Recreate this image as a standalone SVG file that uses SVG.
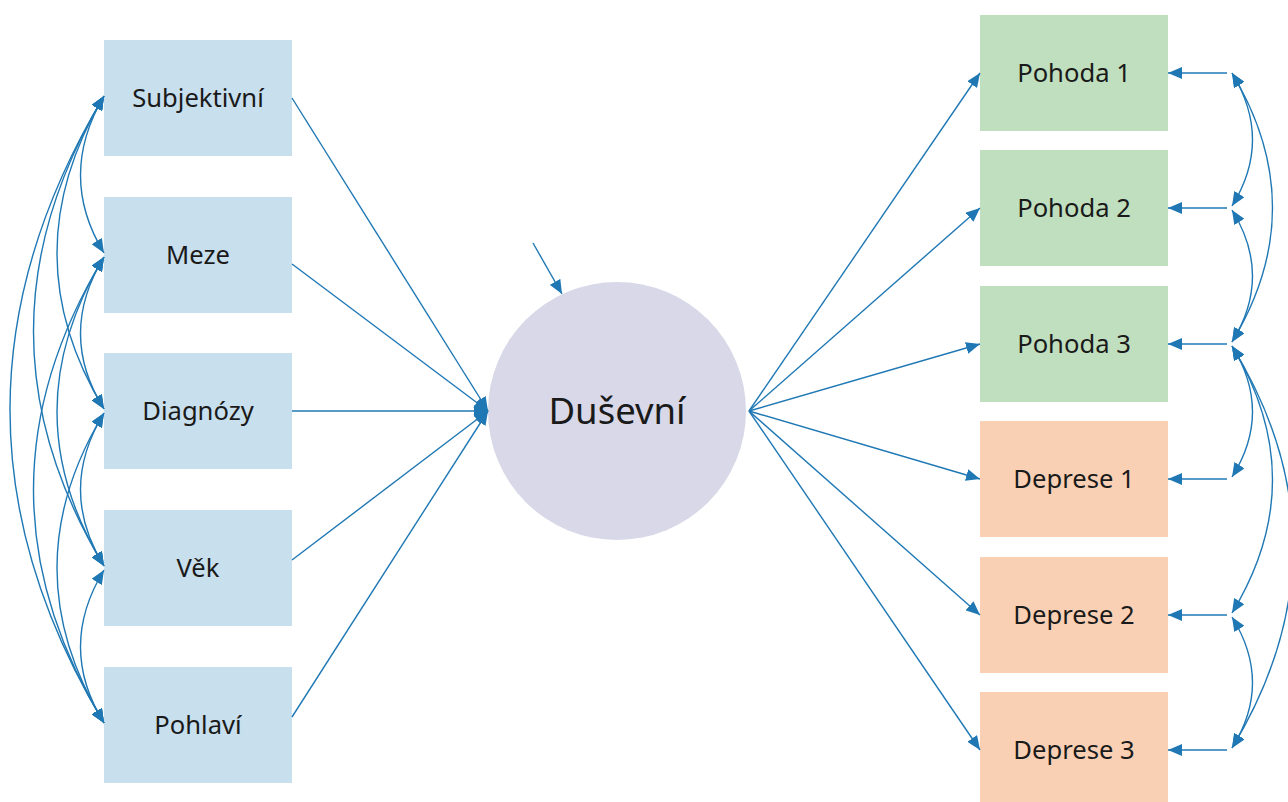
<svg xmlns="http://www.w3.org/2000/svg" width="1288" height="802" viewBox="0 0 1288 802">
<style>
.lbl{font-family:"Noto Sans","DejaVu Sans",sans-serif;font-size:25.6px;fill:#1a1a1a;text-anchor:middle}
.big{font-family:"Noto Sans","DejaVu Sans",sans-serif;font-size:36.5px;fill:#1a1a1a;text-anchor:middle}
.blue{fill:#c8dfed}
.green{fill:#c0dfbe}
.orange{fill:#f9d0b4}
.e{fill:none;stroke:#1f78b4;stroke-width:1.4;marker-end:url(#ah)}
.c{fill:none;stroke:#1f78b4;stroke-width:1.4;marker-end:url(#ah);marker-start:url(#ah)}
</style>
<defs>
<marker id="ah" viewBox="0 0 14 12" refX="14" refY="6" markerWidth="14" markerHeight="12" markerUnits="userSpaceOnUse" orient="auto-start-reverse">
<path d="M0,0 L14,6 L0,12 z" fill="#1f78b4"/>
</marker>
</defs>
<rect width="1288" height="802" fill="#ffffff"/>
<g id="n-subjektivni"><rect class="blue" x="104" y="40" width="188" height="116"/><text class="lbl" x="198" y="107">Subjektivní</text></g>
<g id="n-meze"><rect class="blue" x="104" y="197" width="188" height="116"/><text class="lbl" x="198" y="264">Meze</text></g>
<g id="n-diagnozy"><rect class="blue" x="104" y="353" width="188" height="116"/><text class="lbl" x="198" y="420">Diagnózy</text></g>
<g id="n-vek"><rect class="blue" x="104" y="510" width="188" height="116"/><text class="lbl" x="198" y="577">Věk</text></g>
<g id="n-pohlavi"><rect class="blue" x="104" y="667" width="188" height="116"/><text class="lbl" x="198" y="734">Pohlaví</text></g>
<g id="n-dusevni"><circle cx="617" cy="411" r="129" fill="#d8d8e8"/><text class="big" x="617" y="424">Duševní</text></g>
<g id="n-pohoda1"><rect class="green" x="980" y="15" width="188" height="116"/><text class="lbl" x="1074" y="82">Pohoda 1</text></g>
<g id="n-pohoda2"><rect class="green" x="980" y="150" width="188" height="116"/><text class="lbl" x="1074" y="217">Pohoda 2</text></g>
<g id="n-pohoda3"><rect class="green" x="980" y="286" width="188" height="116"/><text class="lbl" x="1074" y="353">Pohoda 3</text></g>
<g id="n-deprese1"><rect class="orange" x="980" y="421" width="188" height="116"/><text class="lbl" x="1074" y="488">Deprese 1</text></g>
<g id="n-deprese2"><rect class="orange" x="980" y="557" width="188" height="116"/><text class="lbl" x="1074" y="624">Deprese 2</text></g>
<g id="n-deprese3"><rect class="orange" x="980" y="692" width="188" height="116"/><text class="lbl" x="1074" y="759">Deprese 3</text></g>
<g id="connectors">
<path class="e" d="M292,98 L488,411"/>
<path class="e" d="M292,264 L488,411"/>
<path class="e" d="M292,411 L488,411"/>
<path class="e" d="M292,560 L488,411"/>
<path class="e" d="M292,717 L488,411"/>
<path class="e" d="M533,243 L562,294"/>
<path class="e" d="M749,411 L980,73"/>
<path class="e" d="M749,411 L980,208"/>
<path class="e" d="M749,411 L980,344"/>
<path class="e" d="M749,411 L980,479"/>
<path class="e" d="M749,411 L980,615"/>
<path class="e" d="M749,411 L980,750"/>
<path class="e" d="M1227,73 L1168,73"/>
<path class="e" d="M1227,208 L1168,208"/>
<path class="e" d="M1227,344 L1168,344"/>
<path class="e" d="M1227,479 L1168,479"/>
<path class="e" d="M1227,615 L1168,615"/>
<path class="e" d="M1227,750 L1168,750"/>
<path class="c" d="M104,96 Q57,176 104,253"/>
<path class="c" d="M104,96 Q10,254 104,409"/>
<path class="c" d="M104,96 Q-37,332 104,566"/>
<path class="c" d="M104,96 Q-84,410 104,723"/>
<path class="c" d="M104,257 Q57,334 104,409"/>
<path class="c" d="M104,257 Q10,412 104,566"/>
<path class="c" d="M104,257 Q-37,490 104,723"/>
<path class="c" d="M104,413 Q57,490 104,566"/>
<path class="c" d="M104,413 Q10,568 104,723"/>
<path class="c" d="M104,570 Q57,647 104,723"/>
<path class="c" d="M1232,73 Q1273,140 1232,206"/>
<path class="c" d="M1232,73 Q1313,208 1232,342"/>
<path class="c" d="M1232,210 Q1273,276 1232,342"/>
<path class="c" d="M1232,346 Q1273,412 1232,477"/>
<path class="c" d="M1232,346 Q1313,480 1232,613"/>
<path class="c" d="M1232,346 Q1354,546 1232,748"/>
<path class="c" d="M1232,617 Q1273,683 1232,748"/>
</g>
</svg>
